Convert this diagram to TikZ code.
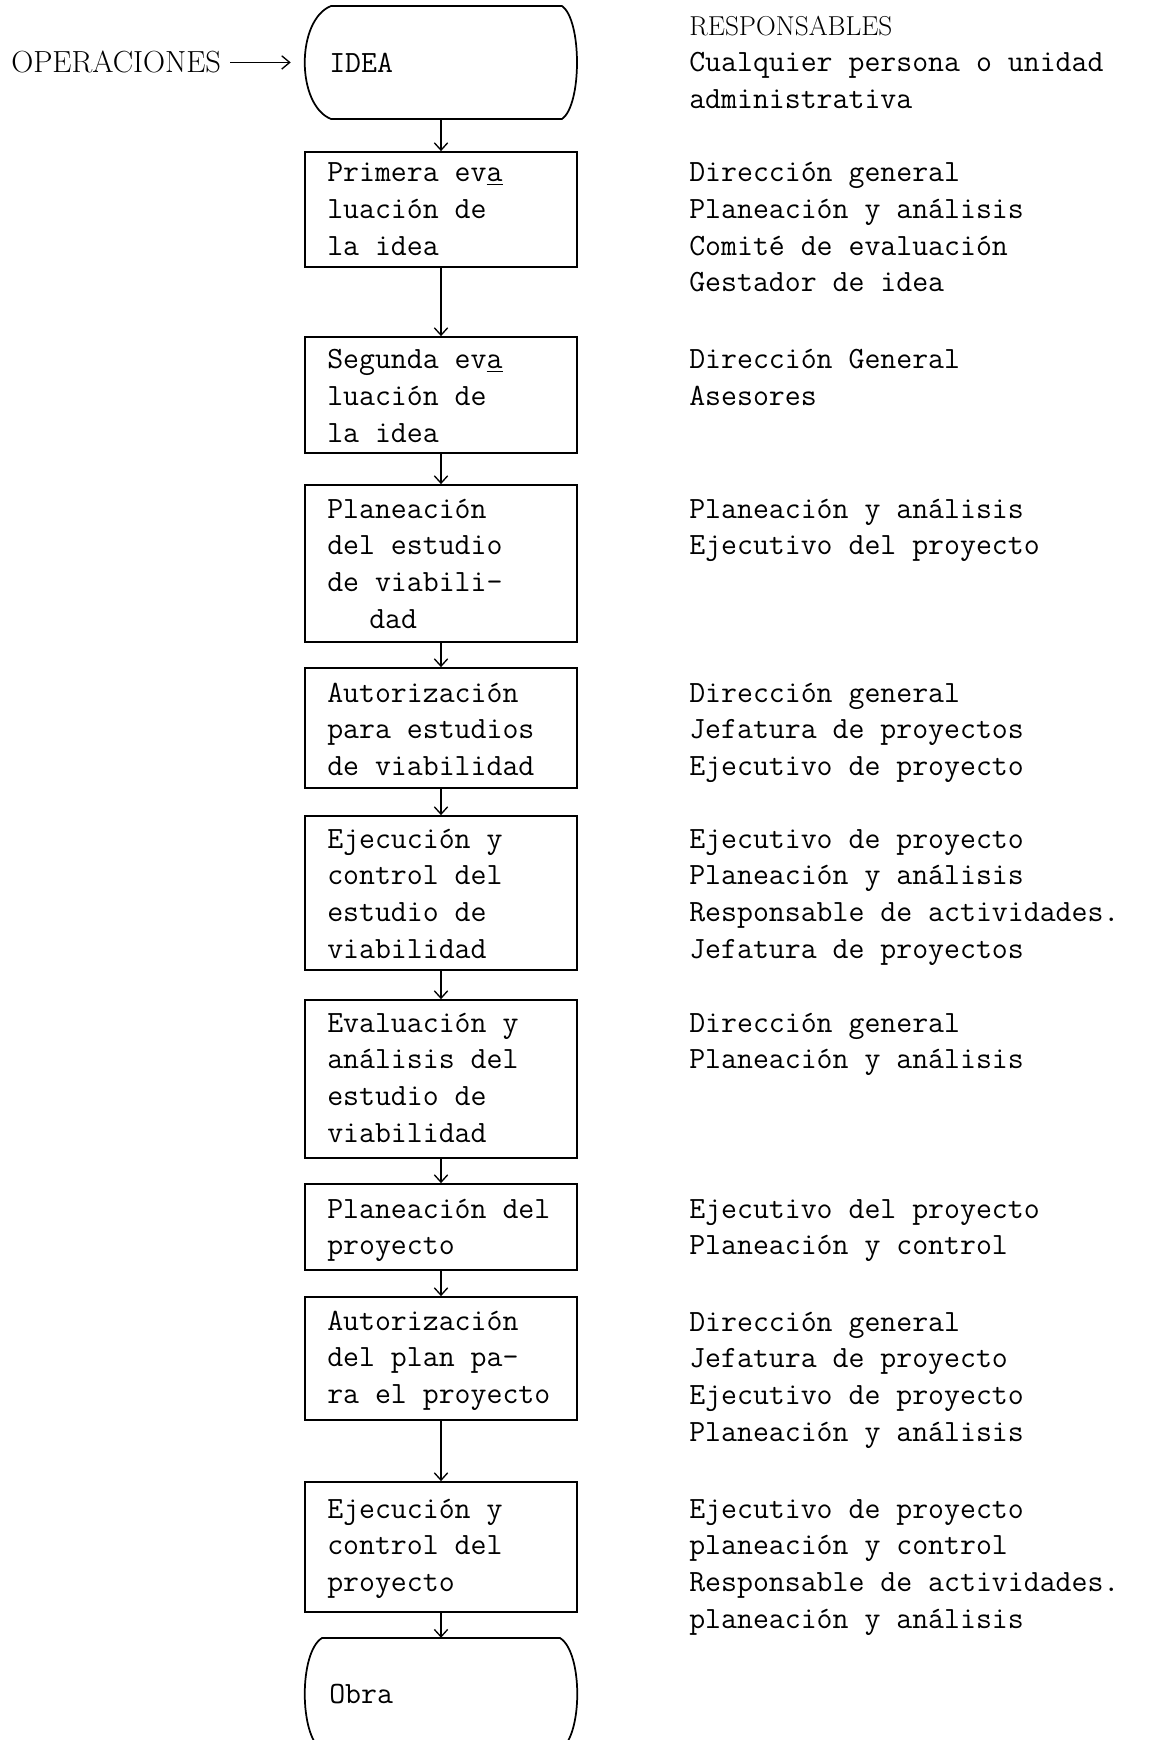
\documentclass[tikz,border=0pt]{standalone}
\usepackage{fontspec}
\usetikzlibrary{arrows.meta,fit}
\newcommand\tlines[1]{\vtop{\baselineskip=27.5pt\lineskiplimit=-100pt\lineskip=0pt\halign{##\hfil\cr#1\crcr}}}
\tikzset{
  stepbox/.style={draw, line width=1.3pt, inner sep=0pt},
  holder/.style={inner sep=0pt},
  txt/.style={anchor=base west, inner sep=0pt, font=\ttfamily\fontsize{23.2}{27.5}\selectfont},
  hdr/.style={anchor=base west, inner sep=0pt, font=\rmfamily\fontsize{20.5}{24}\selectfont},
  opshdr/.style={anchor=base west, inner sep=0pt, font=\rmfamily\fontsize{22.9}{26}\selectfont},
  conn/.style={line width=1.1pt, -{Straight Barb[length=5.5pt,width=10pt,line width=1pt]}},
  oparrow/.style={line width=1.1pt, -{Straight Barb[length=6pt,width=10pt,line width=1pt]}},
  termline/.style={line width=1.3pt, line join=round},
}
\begin{document}
\begin{tikzpicture}[x=0.75pt,y=-0.75pt]
\useasboundingbox (0,0) rectangle (1154,1740);
\fill[white] (0,0) rectangle (1154,1740);

% header
\node[opshdr] (ops) at (11,73) {OPERACIONES};
\node[hdr] (resph) at (689,36) {RESPONSABLES};
\node[txt] (r0) at (689,72) {\tlines{Cualquier persona o unidad\cr administrativa}};

% IDEA terminal
\node[holder, fit={(305,6) (577,119)}] (idea) {};
\draw[termline] (331,6) -- (562,6) .. controls (582,20) and (582,105) .. (562,119)
  -- (331,119) .. controls (296,105) and (296,20) .. cycle;
\node[txt] (tidea) at (329,73) {IDEA};
\coordinate (opend) at ([xshift=-10.5pt]idea.west);
\draw[oparrow] ([xshift=6.75pt]ops.east) -- (opend |- ops.east);

% process boxes
\node[stepbox, fit={(305,152) (577,267)}] (b1) {};
\node[txt] (t1) at (327,182) {\tlines{Primera ev\underline{a}\cr luación de\cr la idea}};
\node[txt] (r1) at (689,182) {\tlines{Dirección general\cr Planeación y análisis\cr Comité de evaluación\cr Gestador de idea}};

\node[stepbox, fit={(305,337) (577,453)}] (b2) {};
\node[txt] (t2) at (327,369) {\tlines{Segunda ev\underline{a}\cr luación de\cr la idea}};
\node[txt] (r2) at (689,369) {\tlines{Dirección General\cr Asesores}};

\node[stepbox, fit={(305,485) (577,642)}] (b3) {};
\node[txt] (t3) at (327,518) {\tlines{Planeación\cr del estudio\cr de viabili-\cr \hskip31.5pt dad}};
\node[txt] (r3) at (689,518) {\tlines{Planeación y análisis\cr Ejecutivo del proyecto}};

\node[stepbox, fit={(305,668) (577,788)}] (b4) {};
\node[txt] (t4) at (327,702) {\tlines{Autorización\cr para estudios\cr de viabilidad}};
\node[txt] (r4) at (689,702) {\tlines{Dirección general\cr Jefatura de proyectos\cr Ejecutivo de proyecto}};

\node[stepbox, fit={(305,816) (577,970)}] (b5) {};
\node[txt] (t5) at (327,848) {\tlines{Ejecución y\cr control del\cr estudio de\cr viabilidad}};
\node[txt] (r5) at (689,848) {\tlines{Ejecutivo de proyecto\cr Planeación y análisis\cr Responsable de actividades.\cr Jefatura de proyectos}};

\node[stepbox, fit={(305,1000) (577,1158)}] (b6) {};
\node[txt] (t6) at (327,1032) {\tlines{Evaluación y\cr análisis del\cr estudio de\cr viabilidad}};
\node[txt] (r6) at (689,1032) {\tlines{Dirección general\cr Planeación y análisis}};

\node[stepbox, fit={(305,1184) (577,1270)}] (b7) {};
\node[txt] (t7) at (327,1218) {\tlines{Planeación del\cr proyecto}};
\node[txt] (r7) at (689,1218) {\tlines{Ejecutivo del proyecto\cr Planeación y control}};

\node[stepbox, fit={(305,1297) (577,1420)}] (b8) {};
\node[txt] (t8) at (327,1330) {\tlines{Autorización\cr del plan pa-\cr ra el proyecto}};
\node[txt] (r8) at (689,1331) {\tlines{Dirección general\cr Jefatura de proyecto\cr Ejecutivo de proyecto\cr Planeación y análisis}};

\node[stepbox, fit={(305,1482) (577,1612)}] (b9) {};
\node[txt] (t9) at (327,1518) {\tlines{Ejecución y\cr control del\cr proyecto}};
\node[txt] (r9) at (689,1518) {\tlines{Ejecutivo de proyecto\cr planeación y control\cr Responsable de actividades.\cr planeación y análisis}};

% Obra terminal
\node[holder, fit={(305,1638) (577,1750)}] (obra) {};
\draw[termline] (322,1638) -- (560,1638) .. controls (583,1652) and (583,1736) .. (560,1750)
  -- (322,1750) .. controls (299,1736) and (299,1652) .. cycle;
\node[txt] (tobra) at (329,1703) {Obra};

% connectors
\draw[conn] (idea.south) -- (b1.north);
\draw[conn] (b1.south) -- (b2.north);
\draw[conn] (b2.south) -- (b3.north);
\draw[conn] (b3.south) -- (b4.north);
\draw[conn] (b4.south) -- (b5.north);
\draw[conn] (b5.south) -- (b6.north);
\draw[conn] (b6.south) -- (b7.north);
\draw[conn] (b7.south) -- (b8.north);
\draw[conn] (b8.south) -- (b9.north);
\draw[conn] (b9.south) -- (obra.north);
\end{tikzpicture}
\end{document}
